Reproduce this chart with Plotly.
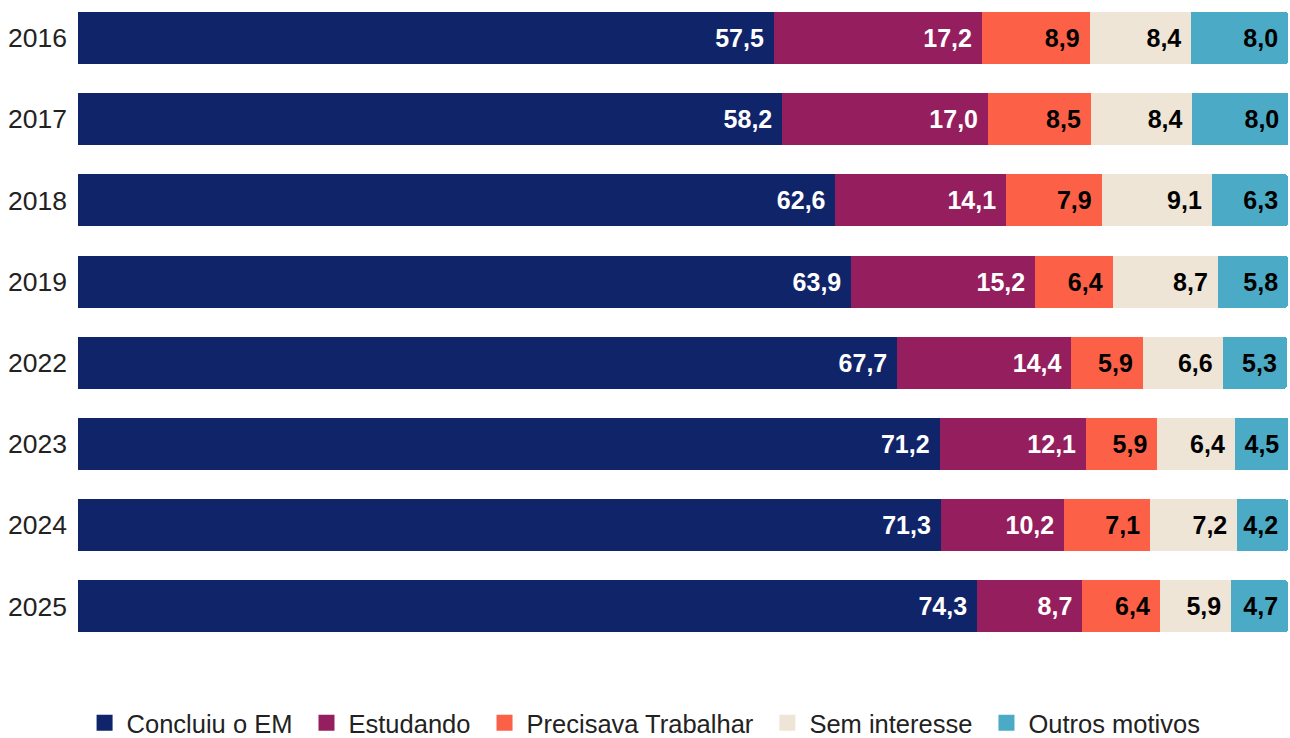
import plotly.graph_objects as go

years = ["2016", "2017", "2018", "2019", "2022", "2023", "2024", "2025"]
concluiu = [57.5, 58.2, 62.6, 63.9, 67.7, 71.2, 71.3, 74.3]
estudando = [17.2, 17.0, 14.1, 15.2, 14.4, 12.1, 10.2, 8.7]
precisava = [8.9, 8.5, 7.9, 6.4, 5.9, 5.9, 7.1, 6.4]
sem_interesse = [8.4, 8.4, 9.1, 8.7, 6.6, 6.4, 7.2, 5.9]
outros = [8.0, 8.0, 6.3, 5.8, 5.3, 4.5, 4.2, 4.7]

series = [
    ("Concluiu o EM", concluiu, "#10246A", "white"),
    ("Estudando", estudando, "#951F5E", "white"),
    ("Precisava Trabalhar", precisava, "#FC6046", "black"),
    ("Sem interesse", sem_interesse, "#EEE5D6", "black"),
    ("Outros motivos", outros, "#4BABC6", "black"),
]

FONT = "Liberation Sans, Arial"

fig = go.Figure()
for name, vals, color, tcolor in series:
    fig.add_trace(go.Bar(
        y=years, x=vals, name=name, orientation="h", showlegend=False,
        marker=dict(color=color, line=dict(width=0)),
        texttemplate="%{x:.1f}\u00a0", textposition="inside",
        insidetextanchor="end",
        textfont=dict(family=FONT, size=25, color=tcolor, weight="bold"),
        constraintext="none", hoverinfo="skip",
    ))

# legend entries with larger square swatches
for name, vals, color, tcolor in series:
    fig.add_trace(go.Scatter(
        x=[None], y=[None], mode="markers", name=name + "\u00a0",
        marker=dict(symbol="square", size=18, color=color),
        showlegend=True,
    ))

fig.update_layout(
    width=1290, height=738,
    barmode="stack", bargap=0.36, barcornerradius=3,
    separators=",.",
    plot_bgcolor="white", paper_bgcolor="white",
    margin=dict(l=78, r=2, t=0, b=91, autoexpand=False),
    font=dict(family=FONT, size=25, color="#222222"),
    uniformtext=dict(mode=False),
    xaxis=dict(range=[0, 100], visible=False, fixedrange=True),
    yaxis=dict(type="category", categoryorder="array", categoryarray=years,
               range=[7.5, -0.468], showgrid=False, zeroline=False,
               showline=False, ticks="", ticklabelstandoff=10, automargin=False,
               fixedrange=True,
               tickfont=dict(family=FONT, size=26.5, color="#222222")),
    legend=dict(orientation="h", xref="container", x=0.502, xanchor="center",
                yref="container", y=0.02, yanchor="middle", itemsizing="trace",
                itemwidth=34,
                font=dict(family=FONT, size=25.5, color="#222222"), traceorder="normal"),
    showlegend=True,
)

fig.write_html("out.html", config={"displayModeBar": False},
               post_script="document.body.style.margin='0';document.body.style.overflow='hidden';")
